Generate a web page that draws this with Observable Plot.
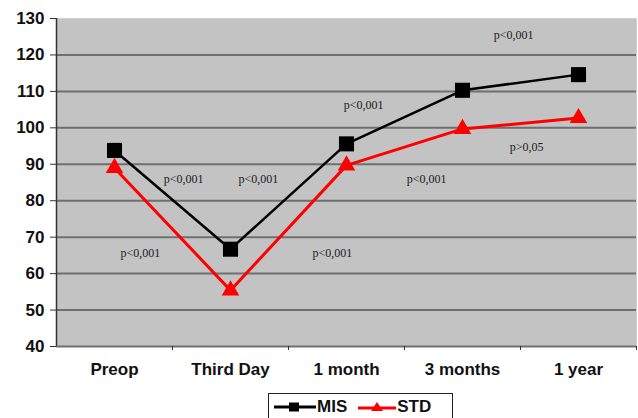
<!DOCTYPE html>
<html><head><meta charset="utf-8">
<script src="https://cdn.jsdelivr.net/npm/d3@7"></script>
<script src="https://cdn.jsdelivr.net/npm/@observablehq/plot@0.6"></script>
<style>
body{margin:0;background:#fff;font-family:"Liberation Sans",Arial,sans-serif;}
#chart{width:638px;height:392px;}
#chart svg g[aria-label*="tick label"]{font-weight:bold;font-size:17px;}
.legend{position:absolute;left:268px;top:393px;width:185px;height:28px;border:1px solid #222;background:#fff;display:flex;align-items:center;font-weight:bold;font-size:17px;color:#111;box-sizing:border-box;}
.legend span{display:flex;align-items:center;}
</style></head><body>
<div id="chart"></div>
<div class="legend">
  <span style="margin-left:4px"><svg width="44" height="14"><line x1="1" y1="7" x2="43" y2="7" stroke="#000" stroke-width="3"/><rect x="16" y="2.5" width="10" height="9" fill="#000"/></svg>MIS</span>
  <span style="margin-left:10px"><svg width="40" height="14"><line x1="1" y1="8" x2="39" y2="8" stroke="#f00" stroke-width="3"/><path d="M20,2 L26,11 L14,11 Z" fill="#f00"/></svg>STD</span>
</div>
<script>
const categories = ["Preop", "Third Day", "1 month", "3 months", "1 year"];
const misValues = [93.8, 66.7, 95.6, 110.3, 114.6];
const stdValues = [89.0, 55.4, 89.7, 99.7, 102.7];
const yTicks = [40, 50, 60, 70, 80, 90, 100, 110, 120, 130];
const pLabels = ["p<0,001", "p<0,001", "p<0,001", "p<0,001", "p<0,001", "p<0,001", "p<0,001", "p>0,05"];
const pX = [0.595, 1.241, 0.224, 1.879, 2.147, 2.690, 3.440, 3.552];
const pY = [85.8, 85.8, 65.5, 65.5, 106.1, 85.8, 125.3, 94.6];

const mis = categories.map((c, i) => ({i, v: misValues[i]}));
const std = categories.map((c, i) => ({i, v: stdValues[i]}));
const notes = pLabels.map((t, k) => ({t, x: pX[k], y: pY[k]}));
const bounds = categories.map((c, i) => i + 0.5);

const chart = Plot.plot({
  width: 638, height: 392,
  marginTop: 18, marginBottom: 46, marginLeft: 56, marginRight: 2,
  style: {fontFamily: "'Liberation Sans', Arial, sans-serif", background: "transparent"},
  x: {domain: [-0.5, 4.5]},
  y: {domain: [40, 130]},
  marks: [
    Plot.frame({fill: "#c3c3c3", stroke: "#d0d0d0"}),
    Plot.ruleY(yTicks.filter(d => d < 130), {stroke: "#6f6f6f", strokeWidth: 2}),
    Plot.ruleX([-0.5], {stroke: "#333", strokeWidth: 1.5}),
    Plot.axisY({ticks: yTicks, tickSize: 6, tickPadding: 6, fontSize: 17, fontWeight: "bold", color: "#111", stroke: "#333"}),
    Plot.axisX({ticks: [0, 1, 2, 3, 4], tickFormat: i => categories[i], tickSize: 0, tickPadding: 16, fontSize: 17, fontWeight: "bold", color: "#111"}),
    Plot.axisX({ticks: bounds, tickFormat: () => "", tickSize: 4, stroke: "#333"}),
    Plot.text(notes, {x: "x", y: "y", text: "t", fontFamily: "'Liberation Serif', 'Times New Roman', serif", fontSize: 12, fill: "#1a1a1a"}),
    Plot.line(mis, {x: "i", y: "v", stroke: "#000", strokeWidth: 2.5}),
    Plot.line(std, {x: "i", y: "v", stroke: "#f00", strokeWidth: 3}),
    Plot.dot(mis, {x: "i", y: "v", symbol: "square", r: 8.5, fill: "#000", stroke: "none"}),
    Plot.dot(std, {x: "i", y: "v", symbol: "triangle", r: 6.5, fill: "#f00", stroke: "none"})
  ]
});
document.getElementById("chart").appendChild(chart);
</script>
</body></html>
